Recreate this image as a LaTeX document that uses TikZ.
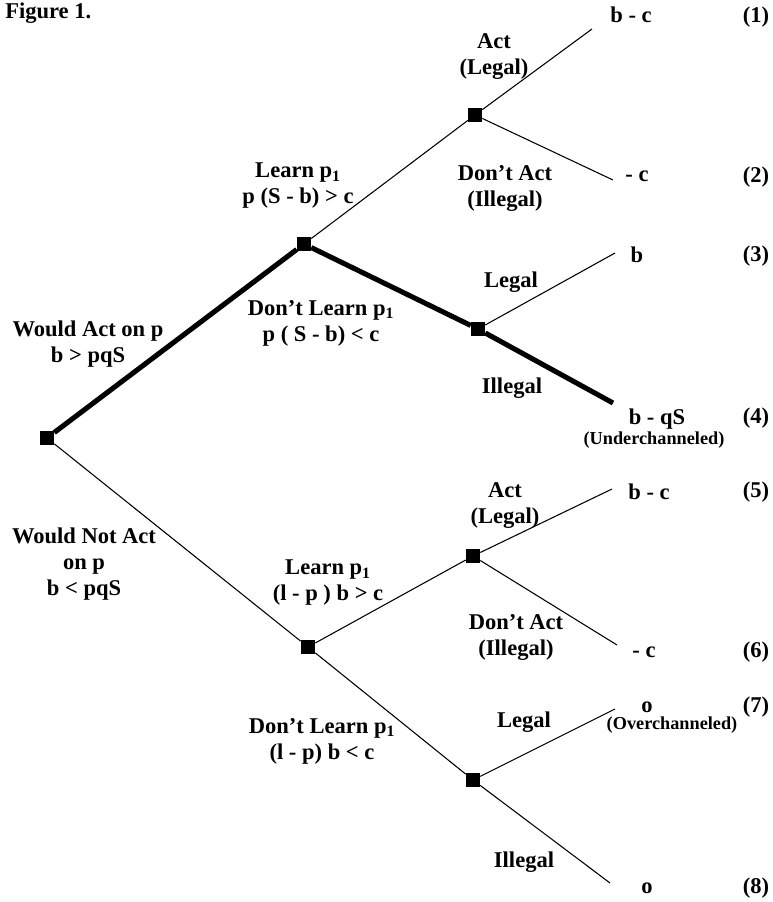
\documentclass[tikz,border=0pt]{standalone}
\usepackage{fontspec}
\setmainfont{Liberation Serif}
\newcommand{\pone}{p\textsubscript{1}}
\begin{document}
\begin{tikzpicture}[x=0.75pt,y=-0.75pt]
  \tikzstyle{dec}=[rectangle, fill=black, minimum size=10.5pt, inner sep=0pt]
  \tikzstyle{lab}=[font=\fontsize{16.9}{19.5}\selectfont\bfseries, align=center, inner sep=0pt]
  \tikzstyle{note}=[font=\fontsize{13.7}{15}\selectfont\bfseries, inner sep=0pt]
  \tikzstyle{branch}=[line width=0.8pt]
  \tikzstyle{chosen}=[line width=3.8pt]

  \useasboundingbox (0,0) rectangle (772,902);

  \node[lab, anchor=west] (title) at (5,13) {Figure 1.};

  % decision nodes
  \node[dec] (r)  at (47,438)  {};
  \node[dec] (a1) at (304,244) {};
  \node[dec] (a2) at (475,115) {};
  \node[dec] (a3) at (478,329) {};
  \node[dec] (b1) at (308,647) {};
  \node[dec] (b2) at (473,556) {};
  \node[dec] (b3) at (473,780) {};

  % branch ends
  \coordinate (e1) at (592,29);
  \coordinate (e2) at (613,180);
  \coordinate (e3) at (615,253);
  \coordinate (e4) at (613,403);
  \coordinate (e5) at (612,489);
  \coordinate (e6) at (617,645);
  \coordinate (e7) at (615,709);
  \coordinate (e8) at (610,883);

  \path (r)  edge[chosen] (a1);
  \path (a1) edge[chosen] (a3);
  \path (a3) edge[chosen] (e4);
  \path (a1) edge[branch] (a2);
  \path (a2) edge[branch] (e1);
  \path (a2) edge[branch] (e2);
  \path (a3) edge[branch] (e3);
  \path (r)  edge[branch] (b1);
  \path (b1) edge[branch] (b2);
  \path (b1) edge[branch] (b3);
  \path (b2) edge[branch] (e5);
  \path (b2) edge[branch] (e6);
  \path (b3) edge[branch] (e7);
  \path (b3) edge[branch] (e8);

  % branch labels
  \node[lab] (wa)  at (88,344)  {Would Act on p\\b > pqS};
  \node[lab] (wna) at (84,564)  {Would Not Act\\on p\\b < pqS};
  \node[lab] (la)  at (298,186) {Learn \pone\\p (S - b) > c};
  \node[lab] (dla) at (321,323) {Don’t Learn \pone\\p ( S - b) < c};
  \node[lab] (lb)  at (328,583) {Learn \pone\\(l - p ) b > c};
  \node[lab] (dlb) at (322,741) {Don’t Learn \pone\\(l - p) b < c};
  \node[lab] (act1)  at (494,57)  {Act\\(Legal)};
  \node[lab] (dact1) at (505,188) {Don’t Act\\(Illegal)};
  \node[lab] (leg1)  at (511,282) {Legal};
  \node[lab] (ill1)  at (512,388) {Illegal};
  \node[lab] (act2)  at (505,506) {Act\\(Legal)};
  \node[lab] (dact2) at (516,637) {Don’t Act\\(Illegal)};
  \node[lab] (leg2)  at (524,722) {Legal};
  \node[lab] (ill2)  at (524,862) {Illegal};

  % payoffs
  \node[lab] (v1) at (631,15)  {b - c};
  \node[lab] (v2) at (637,176) {- c};
  \node[lab] (v3) at (637,255) {b};
  \node[lab] (v4) at (657,419) {b - qS};
  \node[note] (u4) at (654,440) {(Underchanneled)};
  \node[lab] (v5) at (649,492) {b - c};
  \node[lab] (v6) at (644,652) {- c};
  \node[lab] (v7) at (647,707) {o};
  \node[note] (o7) at (672,725) {(Overchanneled)};
  \node[lab] (v8) at (647,888) {o};

  \node[lab] (n1) at (756,17)  {(1)};
  \node[lab] (n2) at (756,177) {(2)};
  \node[lab] (n3) at (756,256) {(3)};
  \node[lab] (n4) at (756,418) {(4)};
  \node[lab] (n5) at (756,492) {(5)};
  \node[lab] (n6) at (756,652) {(6)};
  \node[lab] (n7) at (756,707) {(7)};
  \node[lab] (n8) at (756,888) {(8)};
\end{tikzpicture}
\end{document}
